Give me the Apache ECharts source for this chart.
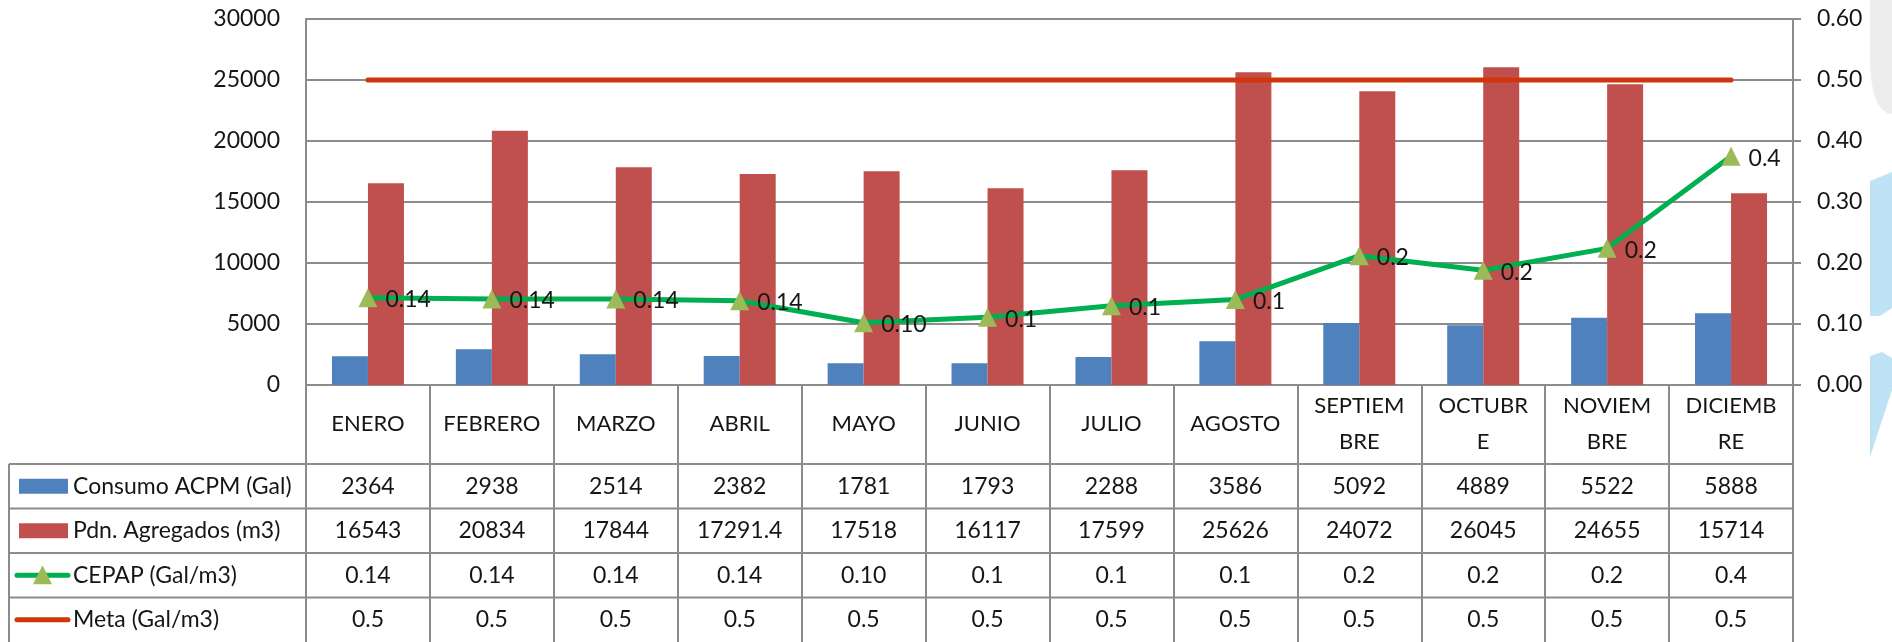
<!DOCTYPE html>
<html>
<head>
<meta charset="utf-8">
<script src="https://cdn.jsdelivr.net/npm/echarts@6/dist/echarts.min.js"></script>
<style>
  html, body { margin: 0; padding: 0; background: #ffffff; }
  #chart { width: 1892px; height: 642px; }
</style>
</head>
<body>
<div id="chart"></div>
<script>
// Monthly header labels (wrapped the way the data table shows them)
const months = ['ENERO', 'FEBRERO', 'MARZO', 'ABRIL', 'MAYO', 'JUNIO', 'JULIO', 'AGOSTO',
  'SEPTIEM\nBRE', 'OCTUBR\nE', 'NOVIEM\nBRE', 'DICIEMB\nRE'];

// Series values
const consumo = [2364, 2938, 2514, 2382, 1781, 1793, 2288, 3586, 5092, 4889, 5522, 5888];
const produccion = [16543, 20834, 17844, 17291.4, 17518, 16117, 17599, 25626, 24072, 26045, 24655, 15714];
const cepap = [0.143, 0.141, 0.141, 0.138, 0.102, 0.111, 0.130, 0.140, 0.212, 0.188, 0.224, 0.375];
const cepapDecimals = [2, 2, 2, 2, 2, 1, 1, 1, 1, 1, 1, 1];
const meta = [0.5, 0.5, 0.5, 0.5, 0.5, 0.5, 0.5, 0.5, 0.5, 0.5, 0.5, 0.5];

// Series names
const names = ['Consumo ACPM (Gal)', 'Pdn. Agregados (m3)', 'CEPAP (Gal/m3)', 'Meta (Gal/m3)'];

const FONT = 'Lato, "Open Sans", sans-serif';
const FS = 23;
const TEXT = '#161616';
const GRID_GRAY = '#8c8c8c';
const C_BLUE = '#4f81bd', C_RED = '#c0504d', C_GREEN = '#00b050', C_TRI = '#9bbb59', C_META = '#d0360a';

const fmtCepap = (i) => cepap[i].toFixed(cepapDecimals[i]);

const chart = echarts.init(document.getElementById('chart'), null, { renderer: 'canvas' });

const option = {
  animation: false,
  backgroundColor: '#ffffff',
  textStyle: { fontFamily: FONT },
  grid: { left: 306, right: 99, top: 19, bottom: 257, containLabel: false },
  xAxis: {
    type: 'category',
    data: months,
    axisLine: { show: true, lineStyle: { color: GRID_GRAY, width: 2 } },
    axisTick: { show: true, interval: 0, length: 257, lineStyle: { color: GRID_GRAY, width: 2 } },
    axisLabel: {
      interval: 0, margin: 39, fontSize: 22, lineHeight: 36, color: TEXT,
      fontFamily: FONT, verticalAlign: 'middle', align: 'center'
    },
    splitLine: { show: false }
  },
  yAxis: [
    {
      type: 'value', min: 0, max: 30000, interval: 5000, position: 'left',
      axisLine: { show: true, lineStyle: { color: GRID_GRAY, width: 2 } },
      axisTick: { show: false },
      axisLabel: { margin: 26, fontSize: FS, color: TEXT, fontFamily: FONT, formatter: v => String(v) },
      splitLine: { show: true, lineStyle: { color: GRID_GRAY, width: 2 } }
    },
    {
      type: 'value', min: 0, max: 0.6, interval: 0.1, position: 'right',
      axisLine: { show: true, lineStyle: { color: GRID_GRAY, width: 2 } },
      axisTick: { show: true, length: 8, lineStyle: { color: GRID_GRAY, width: 2 } },
      axisLabel: { margin: 24, fontSize: FS, color: TEXT, fontFamily: FONT, formatter: v => v.toFixed(2) },
      splitLine: { show: false }
    }
  ],
  series: [
    {
      name: names[0], type: 'bar', yAxisIndex: 0, data: consumo,
      barWidth: 36, barGap: '0%', itemStyle: { color: C_BLUE }, z: 2
    },
    {
      name: names[1], type: 'bar', yAxisIndex: 0, data: produccion,
      barWidth: 36, barGap: '0%', itemStyle: { color: C_RED }, z: 2
    },
    {
      name: names[3], type: 'line', yAxisIndex: 1, data: meta,
      symbol: 'none', lineStyle: { color: C_META, width: 5, cap: 'round' }, z: 4
    },
    {
      name: names[2], type: 'line', yAxisIndex: 1, data: cepap,
      symbol: 'triangle', symbolSize: 19,
      lineStyle: { color: C_GREEN, width: 5 },
      itemStyle: { color: C_TRI },
      label: {
        show: true, position: 'right', distance: 8, fontSize: FS, color: TEXT,
        fontFamily: FONT, offset: [0, 2], formatter: p => fmtCepap(p.dataIndex)
      },
      z: 5
    }
  ]
};

chart.setOption(option);

// Data table under the plot: built from the same arrays, aligned to the category axis
function buildTable() {
  const axisY = chart.convertToPixel({ yAxisIndex: 0 }, 0);
  const xs = months.map((m, i) => chart.convertToPixel({ xAxisIndex: 0 }, i));
  const colW = xs[1] - xs[0];
  const right = xs[xs.length - 1] + colW / 2;
  const headerH = 79, rowH = 44.5, tableLeft = 9, H = 642;
  const top = axisY + headerH;

  const rows = [
    { name: names[0], values: consumo.map(v => String(v)), kind: 'rect', color: C_BLUE },
    { name: names[1], values: produccion.map(v => String(v)), kind: 'rect', color: C_RED },
    { name: names[2], values: cepap.map((v, i) => fmtCepap(i)), kind: 'tri' },
    { name: names[3], values: meta.map(v => String(v)), kind: 'line' }
  ];

  const els = [];
  const line = (x1, y1, x2, y2) => els.push({
    type: 'line', silent: true, z: 10,
    shape: { x1, y1, x2, y2 }, style: { stroke: GRID_GRAY, lineWidth: 2 }
  });

  // borders
  line(tableLeft, top, tableLeft, H);
  for (let r = 0; r < rows.length; r++) line(tableLeft, top + r * rowH, right, top + r * rowH);

  rows.forEach((row, r) => {
    const cy = top + r * rowH + rowH / 2;
    // legend key
    if (row.kind === 'rect') {
      els.push({ type: 'rect', z: 11, shape: { x: 19, y: cy - 7.5, width: 49, height: 15 }, style: { fill: row.color } });
    } else if (row.kind === 'tri') {
      els.push({ type: 'line', z: 11, shape: { x1: 17, y1: cy, x2: 68, y2: cy }, style: { stroke: C_GREEN, lineWidth: 5, lineCap: 'round' } });
      els.push({ type: 'polygon', z: 12, shape: { points: [[42.5, cy - 10], [52, cy + 9], [33, cy + 9]] }, style: { fill: C_TRI } });
    } else {
      els.push({ type: 'line', z: 11, shape: { x1: 17, y1: cy, x2: 68, y2: cy }, style: { stroke: C_META, lineWidth: 5, lineCap: 'round' } });
    }
    els.push({
      type: 'text', z: 12,
      style: { text: row.name, x: 73, y: cy, align: 'left', verticalAlign: 'middle', fill: TEXT, fontSize: FS, fontFamily: FONT }
    });
    row.values.forEach((t, i) => {
      els.push({
        type: 'text', z: 12,
        style: { text: t, x: xs[i], y: cy, align: 'center', verticalAlign: 'middle', fill: TEXT, fontSize: FS, fontFamily: FONT }
      });
    });
  });

  // soft slide decoration at the right edge
  const arc = [[1870, 0], [1870, 60]];
  for (let k = 1; k <= 8; k++) {
    const t = k / 8;
    arc.push([1870 + 22 * t * t, 60 + 54 * Math.sin(t * Math.PI / 2)]);
  }
  arc.push([1892, 0]);
  els.push({ type: 'polygon', z: -1, silent: true, shape: { points: arc }, style: { fill: '#ededed' } });
  els.push({ type: 'polygon', z: -1, silent: true, shape: { points: [[1870, 181], [1892, 172], [1892, 308], [1880, 316], [1870, 316]] }, style: { fill: '#bde3f4' } });
  els.push({ type: 'polygon', z: -1, silent: true, shape: { points: [[1870, 356], [1882, 352], [1892, 358], [1892, 390], [1870, 457]] }, style: { fill: '#bde3f4' } });

  chart.setOption({ graphic: { elements: els } });
}

buildTable();
</script>
</body>
</html>
